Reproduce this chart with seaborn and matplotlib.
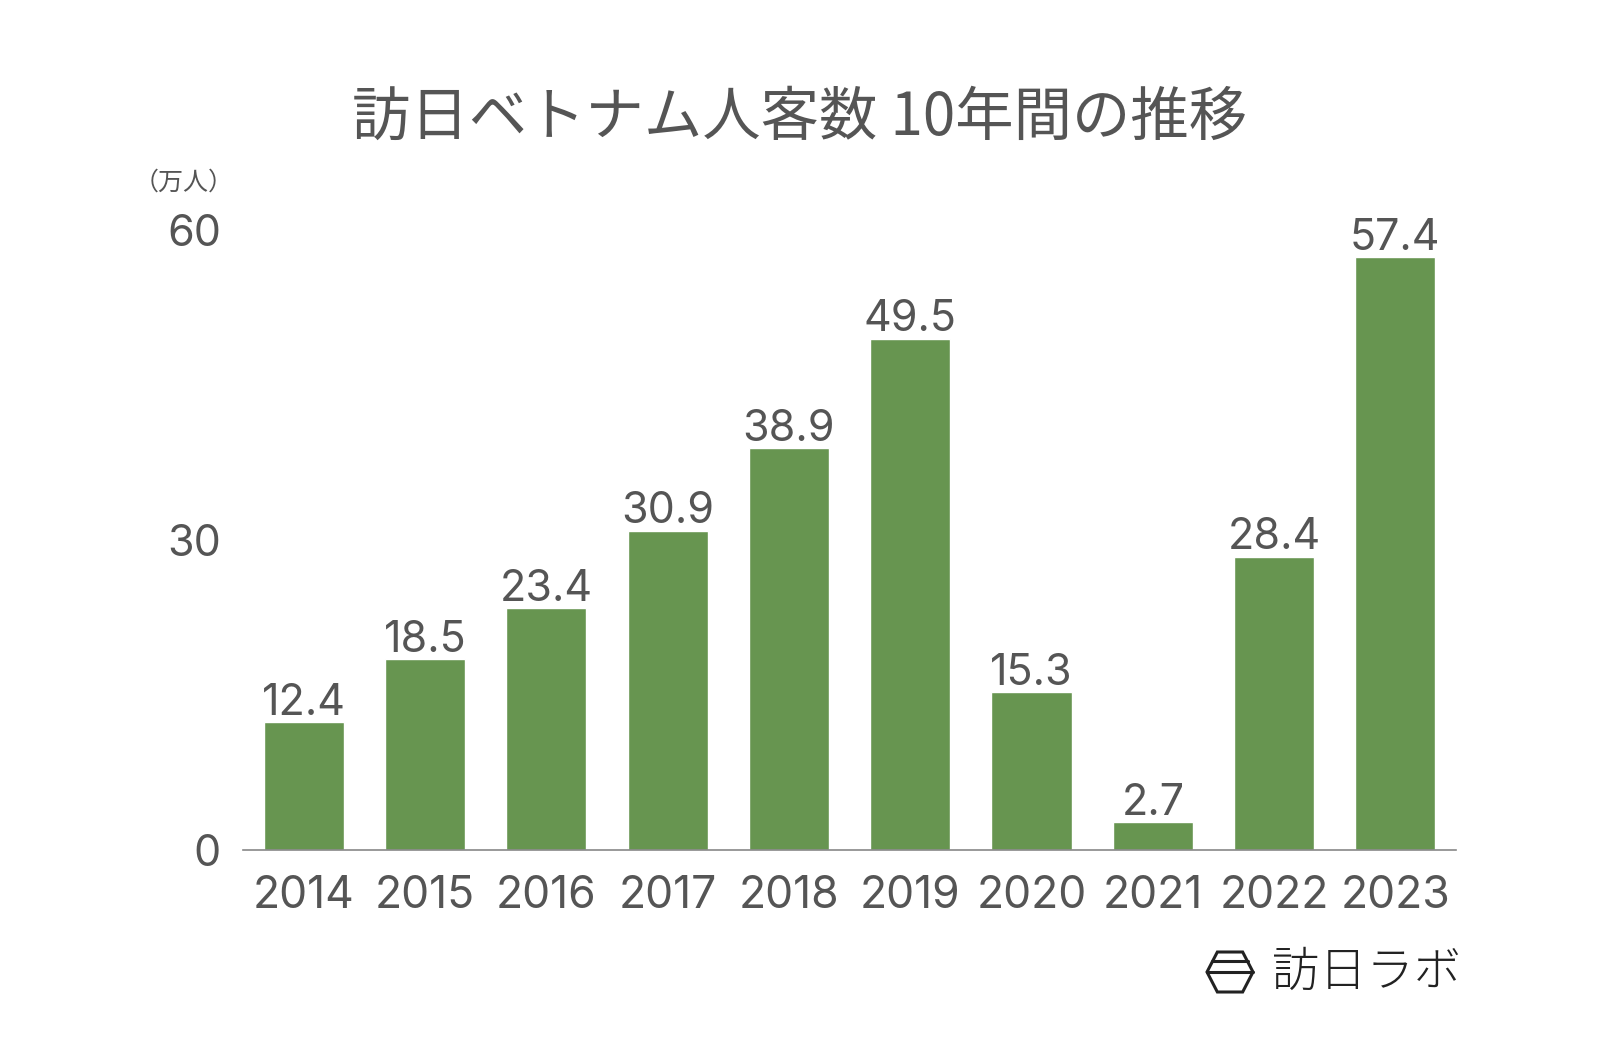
import matplotlib
matplotlib.use("Agg")
import matplotlib.pyplot as plt
import seaborn as sns
import pandas as pd
from matplotlib.patches import Polygon
from matplotlib.lines import Line2D

years = ["2014", "2015", "2016", "2017", "2018", "2019", "2020", "2021", "2022", "2023"]
visitors = [12.4, 18.5, 23.4, 30.9, 38.9, 49.5, 15.3, 2.7, 28.4, 57.4]
yticks = [0, 30, 60]
title = "訪日ベトナム人客数 10年間の推移"
unit = "（万人）"
brand = "訪日ラボ"

sns.set_theme(style="white")
plt.rcParams['font.family'] = ['Noto Sans CJK JP', 'DejaVu Sans']
NUMFONT = ['Inter', 'Noto Sans CJK JP', 'DejaVu Sans']

GREEN = "#679550"
TEXT = "#555555"

df = pd.DataFrame({"year": years, "value": visitors})

fig = plt.figure(figsize=(16, 10.48), dpi=100)
ax = fig.add_axes([0.152, 0.189, 0.758, 0.5915])
sns.barplot(data=df, x="year", y="value", color=GREEN, width=0.66, ax=ax,
            saturation=1)

ax.set_ylim(0, 60)
ax.set_xlim(-0.5, len(years) - 0.5)
ax.set_yticks(yticks)
ax.set_yticklabels([str(t) for t in yticks], fontsize=31, color=TEXT, family=NUMFONT)
ax.set_xticks(range(len(years)))
ax.set_xticklabels(years, fontsize=32, color=TEXT, family=NUMFONT)
ax.tick_params(axis="x", length=0, pad=18)
ax.tick_params(axis="y", length=0, pad=16)
ax.set_xlabel("")
ax.set_ylabel("")
for s in ["top", "right", "left"]:
    ax.spines[s].set_visible(False)
ax.spines["bottom"].set_color("#888888")
ax.spines["bottom"].set_linewidth(1.2)

for i, v in enumerate(visitors):
    ax.text(i, v + 0.7, f"{v:.1f}", ha="center", va="baseline", fontsize=31,
            color=TEXT, clip_on=False, family=NUMFONT)

fig.text(0.5, 0.887, title, ha="center", va="center", fontsize=42, color=TEXT)
fig.text(0.115, 0.826, unit, ha="center", va="center", fontsize=18, color=TEXT)

# brand logo
hx, hy = 1230, 1048 - 972
hw, hh = 23, 20
pts = [(hx - hw, hy), (hx - hw * 0.55, hy + hh), (hx + hw * 0.55, hy + hh),
       (hx + hw, hy), (hx + hw * 0.55, hy - hh), (hx - hw * 0.55, hy - hh)]
pts = [(x / 1600, y / 1048) for x, y in pts]
fig.patches.append(Polygon(pts, closed=True, fill=False, edgecolor="#222222",
                           linewidth=2.2, transform=fig.transFigure))
fig.lines.append(Line2D([(hx - hw) / 1600, (hx + hw) / 1600], [hy / 1048, hy / 1048],
                        color="#222222", linewidth=2.2, transform=fig.transFigure))
fig.lines.append(Line2D([(hx - hw * 0.78) / 1600, (hx + hw * 0.78) / 1600],
                        [(hy + hh * 0.55) / 1048, (hy + hh * 0.55) / 1048],
                        color="#222222", linewidth=2.2, transform=fig.transFigure))
fig.text(1367 / 1600, 1 - 972 / 1048, brand, ha="center", va="center",
         fontsize=34, color="#222222", fontweight="light")

fig.savefig("out.png", dpi=100, facecolor="white")
